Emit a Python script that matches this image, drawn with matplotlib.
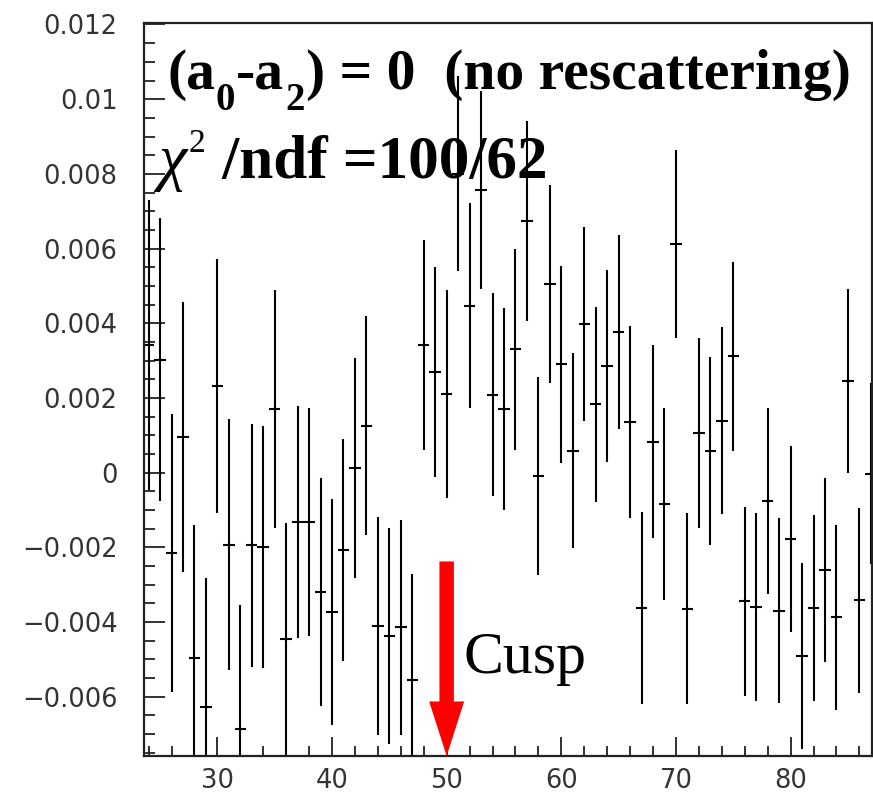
import matplotlib
matplotlib.use("Agg")
import matplotlib.pyplot as plt
from matplotlib.transforms import IdentityTransform
from matplotlib.patches import FancyArrow
from matplotlib.ticker import MultipleLocator

plt.rcParams['font.family'] = ['DejaVu Sans']

# ---------------- data (values in units of 1e-3) ----------------
bin_centers = [24, 25, 26, 27, 28, 29, 30, 31, 32, 33, 34, 35, 36, 37, 38, 39,
               40, 41, 42, 43, 44, 45, 46, 47, 48, 49, 50, 51, 52, 53, 54, 55,
               56, 57, 58, 59, 60, 61, 62, 63, 64, 65, 66, 67, 68, 69, 70, 71,
               72, 73, 74, 75, 76, 77, 78, 79, 80, 81, 82, 83, 84, 85, 86, 87]
values_e3 = [3.42, 3.02, -2.15, 0.95, -4.96, -6.28, 2.31, -1.93, -6.87, -1.95,
             -1.99, 1.70, -4.46, -1.33, -1.33, -3.19, -3.74, -2.07, 0.13, 1.26,
             -4.10, -4.38, -4.14, -5.55, 3.42, 2.70, 2.11, 8.00, 4.47, 7.57,
             2.09, 1.70, 3.30, 6.74, -0.10, 5.06, 2.90, 0.59, 3.98, 1.83,
             2.85, 3.76, 1.35, -3.63, 0.83, -0.84, 6.13, -3.64, 1.06, 0.57,
             1.39, 3.11, -3.45, -3.61, -0.76, -3.70, -1.77, -4.92, -3.63, -2.61,
             -3.88, 2.45, -3.42, -0.03]
errors_e3 = [3.88, 3.79, 3.72, 3.62, 3.56, 3.46, 3.40, 3.36, 3.33, 3.26,
             3.23, 3.18, 3.11, 3.10, 3.05, 3.05, 3.03, 2.97, 2.95, 2.94,
             2.92, 2.89, 2.88, 2.83, 2.81, 2.81, 2.79, 2.61, 2.75, 2.65,
             2.72, 2.70, 2.70, 2.67, 2.65, 2.65, 2.64, 2.61, 2.61, 2.61,
             2.57, 2.59, 2.57, 2.57, 2.59, 2.56, 2.52, 2.55, 2.54, 2.52,
             2.51, 2.52, 2.53, 2.52, 2.49, 2.48, 2.49, 2.49, 2.50, 2.46,
             2.48, 2.46, 2.47, 2.43]
bin_halfwidth = 0.5
cusp_x = 50
title_line1 = ["(a", "0", "-a", "2", ") = 0  (no rescattering)"]
title_line2 = ["\u03c7", "2", " /ndf =100/62"]
cusp_label = "Cusp"

values = [v * 1e-3 for v in values_e3]
errors = [e * 1e-3 for e in errors_e3]

W, H = 873, 794
fig = plt.figure(figsize=(W / 100, H / 100), dpi=100)
ax = fig.add_axes([144 / W, 1 - 756 / H, (872 - 144) / W, (756 - 23) / H])

ax.errorbar(bin_centers, values, yerr=errors, xerr=bin_halfwidth, fmt='none',
            ecolor='black', elinewidth=1.5, capsize=0)

ax.set_xlim(23.6, 87.1)
ax.set_ylim(-0.00759, 0.01204)

ax.xaxis.set_major_locator(MultipleLocator(10))
ax.xaxis.set_minor_locator(MultipleLocator(2))
ax.yaxis.set_major_locator(MultipleLocator(0.002))
ax.yaxis.set_minor_locator(MultipleLocator(0.0005))

def yfmt(v, pos):
    if abs(v) < 1e-12:
        return "0"
    s = ("%.3f" % v).rstrip('0')
    return s.replace('-', '\u2212')
ax.yaxis.set_major_formatter(plt.FuncFormatter(yfmt))

ax.tick_params(axis='both', which='both', direction='in', colors='#222222',
               labelcolor='#333333', labelsize=18.5, width=1.3,
               labelfontfamily='DejaVu Sans')
ax.tick_params(axis='y', which='major', length=15, pad=19)
ax.tick_params(axis='y', which='minor', length=8)
ax.tick_params(axis='x', which='major', length=14, pad=9)
ax.tick_params(axis='x', which='minor', length=7)
for sp in ax.spines.values():
    sp.set_linewidth(1.6)
    sp.set_color('#222222')

# Cusp arrow (red), drawn in data coordinates
y_start = -0.00238
y_tip = -0.00759
arrow = FancyArrow(cusp_x, y_start, 0, y_tip - y_start, width=1.26,
                   head_width=3.05, head_length=0.00146,
                   length_includes_head=True, color='#ff0000', lw=0,
                   zorder=5, clip_on=False)
ax.add_patch(arrow)
ax.text(51.46, -0.00537, cusp_label, fontsize=43, family='Liberation Serif',
        va='baseline', ha='left')

# Title lines built from pieces on a common baseline
def chain(x, y_top, pieces):
    r = fig.canvas.get_renderer()
    cx = x
    for s, dy, gap, kw in pieces:
        cx += gap
        t = fig.text(cx, H - y_top + dy, s, transform=IdentityTransform(),
                     va='baseline', ha='left', **kw)
        cx += t.get_window_extent(r).width

big = dict(family='Liberation Serif', weight='bold', fontsize=41.5)
big2 = dict(family='Liberation Serif', weight='bold', fontsize=44)
sub = dict(family='Liberation Serif', weight='bold', fontsize=28)
chain(167, 89, [
    (title_line1[0], 0, 0, big),
    (title_line1[1], -21, 1, sub),
    (title_line1[2], 0, 1, big),
    (title_line1[3], -21, 1, sub),
    (title_line1[4], 0, 1, big),
])
chain(158, 178, [
    (title_line2[0], 0, 0, dict(family='Liberation Serif', style='italic', fontsize=46)),
    (title_line2[1], 26, 2, dict(family='Liberation Serif', fontsize=24)),
    (title_line2[2], 0, 2, big2),
])

fig.savefig("out.png", dpi=100)
